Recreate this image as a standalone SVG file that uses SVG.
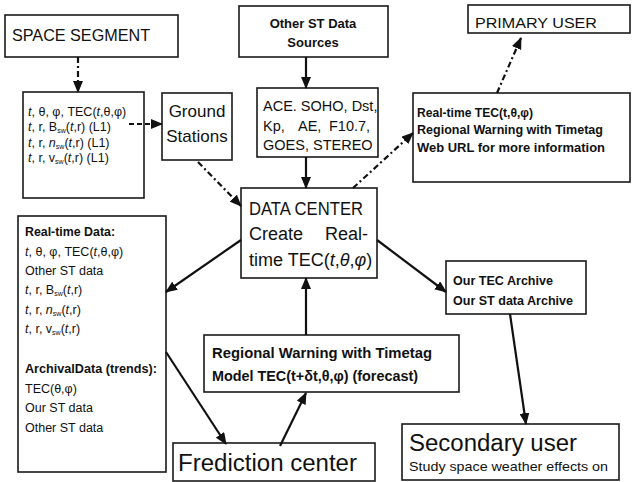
<svg xmlns="http://www.w3.org/2000/svg" width="637" height="482" viewBox="0 0 637 482">
<style>
.box{fill:#fff;stroke:#1a1a1a;stroke-width:1.6}
.t{font-family:"Liberation Sans",Arial,sans-serif;fill:#111}
.b{font-weight:bold}
.i{font-style:italic}
.c{stroke:#111;stroke-width:2.2;fill:none}
.dd{stroke-dasharray:6 3 2 3}
.ds{stroke-dasharray:5 3}
</style>
<defs>
<marker id="ah" markerUnits="userSpaceOnUse" markerWidth="12" markerHeight="10" refX="11" refY="5" orient="auto">
<path d="M0,0 L12,5 L0,10 z" fill="#111"/>
</marker>
</defs>
<rect width="637" height="482" fill="#fff"/>

<g id="space-segment">
<rect class="box" x="5" y="15" width="173" height="42"/>
<text class="t" x="12" y="41" font-size="17" textLength="138" lengthAdjust="spacingAndGlyphs">SPACE SEGMENT</text>
</g>

<g id="space-data">
<rect class="box" x="23" y="92" width="121" height="106"/>
<text class="t" font-size="12.5">
<tspan x="28" y="116"><tspan class="i">t</tspan>, θ, φ, TEC(<tspan class="i">t</tspan>,θ,φ)</tspan>
<tspan x="28" y="131"><tspan class="i">t</tspan>, r, B<tspan font-size="7" dy="2">sw</tspan><tspan dy="-2">(</tspan><tspan class="i">t</tspan>,r) (L1)</tspan>
<tspan x="28" y="147"><tspan class="i">t</tspan>, r, <tspan class="i">n</tspan><tspan font-size="7" dy="2">sw</tspan><tspan dy="-2">(</tspan><tspan class="i">t</tspan>,r) (L1)</tspan>
<tspan x="28" y="162"><tspan class="i">t</tspan>, r, v<tspan font-size="7" dy="2">sw</tspan><tspan dy="-2">(</tspan><tspan class="i">t</tspan>,r) (L1)</tspan>
</text>
</g>

<g id="ground-stations">
<rect class="box" x="162" y="93" width="70" height="67"/>
<text class="t" font-size="17" text-anchor="middle"><tspan x="197" y="117">Ground</tspan><tspan x="197" y="142">Stations</tspan></text>
</g>

<g id="other-st">
<rect class="box" x="239" y="6" width="149" height="51"/>
<text class="t b" font-size="13" text-anchor="middle"><tspan x="313" y="28">Other ST Data</tspan><tspan x="313" y="47">Sources</tspan></text>
</g>

<g id="ace">
<rect class="box" x="257" y="88" width="121" height="69"/>
<text class="t" font-size="14.5">
<tspan x="263" y="111">ACE. SOHO, Dst,</tspan>
<tspan x="263" y="131">Kp,</tspan><tspan x="298" y="131">AE,</tspan><tspan x="329" y="131">F10.7,</tspan>
<tspan x="263" y="150">GOES, STEREO</tspan>
</text>
</g>

<g id="data-center">
<rect class="box" x="241" y="188" width="136" height="90"/>
<text class="t" font-size="18">
<tspan x="249" y="215" textLength="114" lengthAdjust="spacingAndGlyphs">DATA CENTER</tspan>
<tspan x="249" y="240">Create</tspan><tspan x="325" y="240">Real-</tspan>
<tspan x="249" y="266">time TEC(<tspan class="i">t</tspan>,<tspan class="i">θ</tspan>,<tspan class="i">φ</tspan>)</tspan>
</text>
</g>

<g id="primary-user">
<rect class="box" x="468" y="5" width="162" height="28"/>
<text class="t" x="475" y="28" font-size="15" textLength="122" lengthAdjust="spacingAndGlyphs">PRIMARY USER</text>
</g>

<g id="realtime-out">
<rect class="box" x="413" y="93" width="217" height="89"/>
<text class="t b" font-size="12.5">
<tspan x="417" y="117" textLength="116" lengthAdjust="spacingAndGlyphs">Real-time TEC(t,θ,φ)</tspan>
<tspan x="417" y="134" textLength="186" lengthAdjust="spacingAndGlyphs">Regional Warning with Timetag</tspan>
<tspan x="417" y="152" textLength="188" lengthAdjust="spacingAndGlyphs">Web URL for more information</tspan>
</text>
</g>

<g id="realtime-data">
<rect class="box" x="18" y="216" width="148" height="256"/>
<text class="t" font-size="12.5">
<tspan class="b" x="25" y="236" textLength="90" lengthAdjust="spacingAndGlyphs">Real-time Data:</tspan>
<tspan x="25" y="256"><tspan class="i">t</tspan>, θ, φ, TEC(<tspan class="i">t</tspan>,θ,φ)</tspan>
<tspan x="25" y="275">Other ST data</tspan>
<tspan x="25" y="294"><tspan class="i">t</tspan>, r, B<tspan font-size="7" dy="2">sw</tspan><tspan dy="-2">(</tspan><tspan class="i">t</tspan>,r)</tspan>
<tspan x="25" y="314"><tspan class="i">t</tspan>, r, <tspan class="i">n</tspan><tspan font-size="7" dy="2">sw</tspan><tspan dy="-2">(</tspan><tspan class="i">t</tspan>,r)</tspan>
<tspan x="25" y="333"><tspan class="i">t</tspan>, r, v<tspan font-size="7" dy="2">sw</tspan><tspan dy="-2">(</tspan><tspan class="i">t</tspan>,r)</tspan>
<tspan class="b" x="25" y="373" textLength="132" lengthAdjust="spacingAndGlyphs">ArchivalData (trends):</tspan>
<tspan x="25" y="393">TEC(θ,φ)</tspan>
<tspan x="25" y="412">Our ST data</tspan>
<tspan x="25" y="432">Other ST data</tspan>
</text>
</g>

<g id="regional-warning">
<rect class="box" x="204" y="335" width="255" height="57"/>
<text class="t b" font-size="14.5">
<tspan x="212" y="358" textLength="220" lengthAdjust="spacingAndGlyphs">Regional Warning with Timetag</tspan>
<tspan x="212" y="381" textLength="206" lengthAdjust="spacingAndGlyphs">Model TEC(t+δt,θ,φ) (forecast)</tspan>
</text>
</g>

<g id="prediction-center">
<rect class="box" x="173" y="443" width="202" height="38"/>
<text class="t" x="178" y="471" font-size="23" textLength="179" lengthAdjust="spacingAndGlyphs">Frediction center</text>
</g>

<g id="archive">
<rect class="box" x="446" y="261" width="140" height="53"/>
<text class="t b" font-size="13">
<tspan x="453" y="285" textLength="100" lengthAdjust="spacingAndGlyphs">Our TEC Archive</tspan>
<tspan x="453" y="305" textLength="120" lengthAdjust="spacingAndGlyphs">Our ST data Archive</tspan>
</text>
</g>

<g id="secondary-user">
<rect class="box" x="402" y="424" width="217" height="56"/>
<text class="t" x="409" y="451" font-size="23" textLength="168" lengthAdjust="spacingAndGlyphs">Secondary user</text>
<text class="t" x="409" y="471" font-size="13" textLength="199" lengthAdjust="spacingAndGlyphs">Study space weather effects on</text>
</g>

<g id="connectors">
<path class="c dd" d="M78,57 L78,92" marker-end="url(#ah)"/>
<path class="c ds" d="M129,124 L162,124" marker-end="url(#ah)"/>
<path class="c dd" d="M198,162 L241,206" marker-end="url(#ah)"/>
<path class="c" d="M306,57 L306,88" marker-end="url(#ah)"/>
<path class="c" d="M306,157 L306,188" marker-end="url(#ah)"/>
<path class="c dd" d="M353,188 L413,133" marker-end="url(#ah)"/>
<path class="c dd" d="M497,93 L521,38" marker-end="url(#ah)"/>
<path class="c" d="M241,240 L166,292" marker-end="url(#ah)"/>
<path class="c" d="M377,240 L446,292" marker-end="url(#ah)"/>
<path class="c" d="M166,352 L226,444" marker-end="url(#ah)"/>
<path class="c" d="M280,446 L306,393" marker-end="url(#ah)"/>
<path class="c" d="M306,335 L306,278" marker-end="url(#ah)"/>
<path class="c" d="M510,314 L526,424" marker-end="url(#ah)"/>
</g>
</svg>
